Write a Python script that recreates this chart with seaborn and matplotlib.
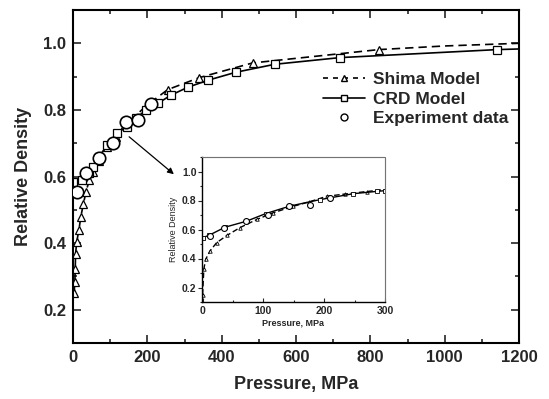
import matplotlib
matplotlib.use("Agg")
import matplotlib.pyplot as plt
from matplotlib.lines import Line2D
from matplotlib.ticker import MultipleLocator
import seaborn as sns

# ---------------- data ----------------
shima_p = [3, 5, 6, 7, 10, 16, 21, 28, 35, 44, 55, 70, 92, 115, 140, 200, 255, 340, 483, 822]
shima_d = [0.25, 0.284, 0.323, 0.368, 0.404, 0.44, 0.479, 0.518, 0.554, 0.59, 0.613, 0.648,
           0.688, 0.72, 0.754, 0.815, 0.861, 0.897, 0.941, 0.981]
shima_tail_p = [822, 1000, 1200]
shima_tail_d = [0.981, 0.992, 1.0]

crd_p = [0, 23, 44, 53, 70, 92, 119, 144, 170, 196, 229, 263, 309, 363, 438, 543, 718, 1140]
crd_d = [0.584, 0.59, 0.61, 0.63, 0.66, 0.694, 0.73, 0.749, 0.775, 0.80, 0.82, 0.844, 0.868,
         0.889, 0.913, 0.937, 0.957, 0.981]
crd_tail_p = [1140, 1200]
crd_tail_d = [0.981, 0.983]

exp_p = [12, 35, 71, 107, 142, 176, 210]
exp_d = [0.554, 0.611, 0.656, 0.70, 0.765, 0.769, 0.819]

inset_shima_p = [0, 2, 5, 12, 23, 40, 61, 89, 116, 149, 175, 204, 235, 270, 300]
inset_shima_d = [0.15, 0.326, 0.394, 0.451, 0.509, 0.559, 0.612, 0.669, 0.715, 0.76, 0.79,
                 0.829, 0.845, 0.862, 0.875]
inset_crd_p = [0, 11, 37, 72, 104, 144, 193, 248, 287, 300]
inset_crd_d = [0.543, 0.561, 0.616, 0.657, 0.71, 0.762, 0.806, 0.847, 0.863, 0.868]

x_ticks = [0, 200, 400, 600, 800, 1000, 1200]
y_ticks = [0.2, 0.4, 0.6, 0.8, 1.0]
inset_x_ticks = [0, 100, 200, 300]
inset_y_ticks = [0.2, 0.4, 0.6, 0.8, 1.0]

# ---------------- style ----------------
sns.set_theme(style="ticks")
plt.rcParams['font.family'] = ['Liberation Sans', 'DejaVu Sans']

fig = plt.figure(figsize=(5.49, 3.99), dpi=100)
ax = fig.add_axes([73/549, 1-343/399, (519-73)/549, (343-10)/399])

blk = "black"
sns.lineplot(x=shima_tail_p, y=shima_tail_d, ax=ax, color=blk, lw=1.2, linestyle=(0, (5, 3)))
sns.lineplot(x=crd_tail_p, y=crd_tail_d, ax=ax, color=blk, lw=1.2)
sns.lineplot(x=shima_p, y=shima_d, ax=ax, color=blk, lw=1.2, linestyle=(0, (5, 3)),
             marker="^", markersize=6, markerfacecolor="white", markeredgecolor=blk,
             markeredgewidth=0.9)
sns.lineplot(x=crd_p, y=crd_d, ax=ax, color=blk, lw=1.2,
             marker="s", markersize=5.5, markerfacecolor="white", markeredgecolor=blk,
             markeredgewidth=0.9)
sns.scatterplot(x=exp_p, y=exp_d, ax=ax, marker="o", s=80, facecolor="white",
                edgecolor=blk, linewidth=1.2, zorder=5)

ax.set_xlim(0, 1200)
ax.set_ylim(0.1, 1.1)
ax.set_xticks(x_ticks)
ax.set_yticks(y_ticks)
ax.set_yticklabels([f"{v:.1f}" for v in y_ticks])
ax.xaxis.set_minor_locator(MultipleLocator(100))
ax.yaxis.set_minor_locator(MultipleLocator(0.1))
ax.tick_params(which="both", direction="in", top=True, right=True, labelsize=12, width=1.2)
ax.tick_params(which="major", length=6, pad=5)
ax.tick_params(which="minor", length=3)
for lab in ax.get_xticklabels() + ax.get_yticklabels():
    lab.set_fontweight("bold")
for s in ax.spines.values():
    s.set_linewidth(1.5)
    s.set_color(blk)
ax.set_xlabel("Pressure, MPa", fontsize=13, fontweight="bold", labelpad=8)
ax.set_ylabel("Relative Density", fontsize=13, fontweight="bold", labelpad=8)

handles = [
    Line2D([], [], color=blk, lw=1.2, linestyle=(0, (3, 3)), marker="^", markersize=5,
           markerfacecolor="white", markeredgecolor=blk),
    Line2D([], [], color=blk, lw=1.2, marker="s", markersize=4,
           markerfacecolor="white", markeredgecolor=blk),
    Line2D([], [], color=blk, lw=0, marker="o", markersize=5,
           markerfacecolor="white", markeredgecolor=blk),
]
ax.legend(handles, ["Shima Model", "CRD Model", "Experiment data"], frameon=False,
          loc="upper right", bbox_to_anchor=(1.0, 0.845), prop={"weight": "bold", "size": 12.5},
          handlelength=2.4, handletextpad=0.5, labelspacing=0.25, borderaxespad=0.2)

# arrow
fig.add_artist(matplotlib.patches.FancyArrowPatch(
    (127/549, 1-135/399), (176/549, 1-176/399), transform=fig.transFigure,
    arrowstyle="-|>", mutation_scale=9, color=blk, lw=0.9))

# ---------------- inset ----------------
ins = fig.add_axes([202/549, 1-302/399, (385-202)/549, (302-157)/399])
sns.lineplot(x=inset_shima_p, y=inset_shima_d, ax=ins, color=blk, lw=1.0, linestyle=(0, (4, 2)),
             marker="^", markersize=2.5, markerfacecolor="white", markeredgecolor=blk,
             markeredgewidth=0.6)
sns.lineplot(x=inset_crd_p, y=inset_crd_d, ax=ins, color=blk, lw=1.0,
             marker="s", markersize=2.5, markerfacecolor="white", markeredgecolor=blk,
             markeredgewidth=0.6)
sns.scatterplot(x=exp_p, y=exp_d, ax=ins, marker="o", s=18, facecolor="white",
                edgecolor=blk, linewidth=0.8, zorder=5)
ins.set_xlim(-1, 300)
ins.set_ylim(0.1, 1.1)
ins.set_xticks(inset_x_ticks)
ins.set_yticks(inset_y_ticks)
ins.set_yticklabels([f"{v:.1f}" for v in inset_y_ticks])
ins.xaxis.set_minor_locator(MultipleLocator(50))
ins.yaxis.set_minor_locator(MultipleLocator(0.1))
ins.tick_params(axis="y", which="both", direction="out", labelsize=7.5, width=0.8, pad=1)
ins.tick_params(axis="x", which="both", direction="in", labelsize=7.5, width=0.8, pad=3)
ins.tick_params(which="major", length=3)
ins.tick_params(which="minor", length=1.5)
for lab in ins.get_xticklabels() + ins.get_yticklabels():
    lab.set_fontweight("bold")
ins.spines["left"].set_linewidth(1.0)
ins.spines["bottom"].set_linewidth(1.0)
ins.spines["left"].set_color(blk)
ins.spines["bottom"].set_color(blk)
for k in ("top", "right"):
    ins.spines[k].set_linewidth(0.8)
    ins.spines[k].set_color("0.45")
    ins.spines[k].set_linestyle((0, (1, 0.5)))
ins.set_xlabel("Pressure, MPa", fontsize=6.5, fontweight="bold", labelpad=2)
ins.set_ylabel("Relative Density", fontsize=6.5, labelpad=3)

fig.savefig("out.png", dpi=100)
